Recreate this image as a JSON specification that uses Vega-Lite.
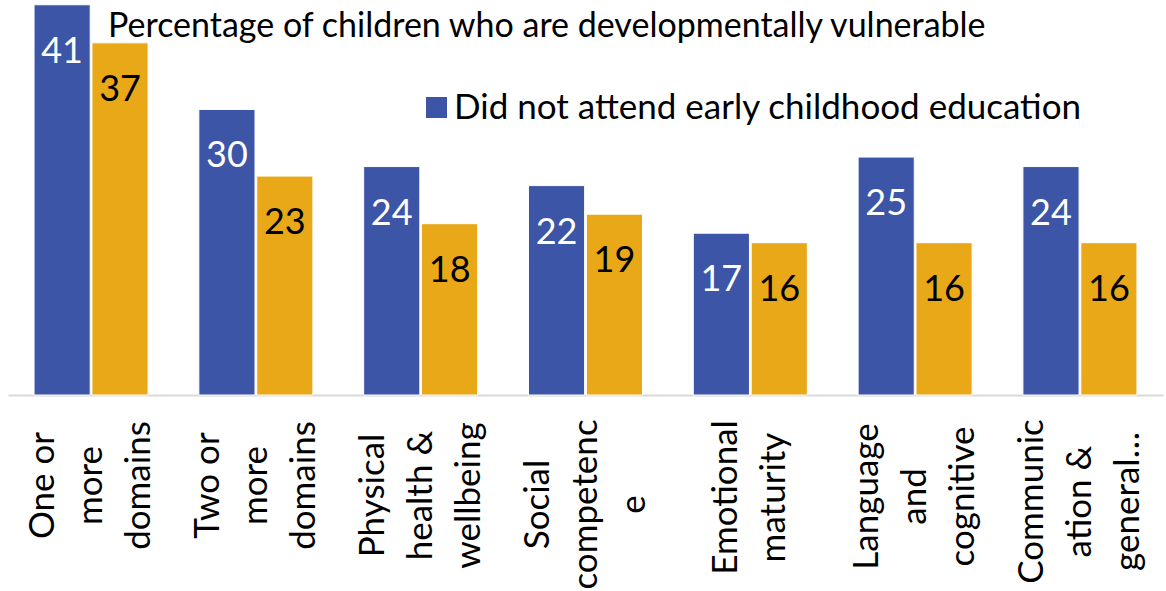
{
  "$schema": "https://vega.github.io/schema/vega-lite/v6.json",
  "width": 1155,
  "height": 395,
  "autosize": {"type": "none"},
  "padding": {"left": 8, "top": 0, "right": 3, "bottom": 196},
  "background": "white",
  "config": {"view": {"stroke": null}, "font": "Lato"},
  "title": {
    "text": "Percentage of children who are developmentally vulnerable",
    "anchor": "start",
    "frame": "group",
    "fontSize": 34,
    "fontWeight": "normal",
    "color": "black",
    "baseline": "alphabetic",
    "offset": 0,
    "dx": 100,
    "dy": 71
  },
  "data": {
    "values": [
      {"category": "One or|more|domains", "series": "Did not attend early childhood education", "value": 41},
      {"category": "One or|more|domains", "series": "Attended early childhood education", "value": 37},
      {"category": "Two or|more|domains", "series": "Did not attend early childhood education", "value": 30},
      {"category": "Two or|more|domains", "series": "Attended early childhood education", "value": 23},
      {"category": "Physical|health &|wellbeing", "series": "Did not attend early childhood education", "value": 24},
      {"category": "Physical|health &|wellbeing", "series": "Attended early childhood education", "value": 18},
      {"category": "Social|competenc|e", "series": "Did not attend early childhood education", "value": 22},
      {"category": "Social|competenc|e", "series": "Attended early childhood education", "value": 19},
      {"category": "Emotional|maturity", "series": "Did not attend early childhood education", "value": 17},
      {"category": "Emotional|maturity", "series": "Attended early childhood education", "value": 16},
      {"category": "Language|and|cognitive", "series": "Did not attend early childhood education", "value": 25},
      {"category": "Language|and|cognitive", "series": "Attended early childhood education", "value": 16},
      {"category": "Communic|ation &|general…", "series": "Did not attend early childhood education", "value": 24},
      {"category": "Communic|ation &|general…", "series": "Attended early childhood education", "value": 16}
    ]
  },
  "encoding": {
    "x": {
      "field": "category",
      "type": "nominal",
      "sort": null,
      "scale": {"paddingInner": 0.308, "paddingOuter": 0.158},
      "axis": {
        "title": null,
        "domainColor": "#d9d9d9",
        "domainWidth": 2,
        "ticks": false,
        "labelAngle": 270,
        "labelAlign": "center",
        "labelBaseline": "middle",
        "labelFontSize": 35,
        "labelColor": "black",
        "labelLineHeight": 48,
        "labelLimit": 0,
        "labelOverlap": false,
        "labelExpr": "split(datum.label, '|')",
        "labelOffset": {
          "condition": {"test": "datum.value == 'Emotional|maturity'", "value": -24},
          "value": -48
        },
        "labelPadding": {
          "condition": [
            {"test": "datum.value == 'Physical|health &|wellbeing'", "value": 100},
            {"test": "datum.value == 'Social|competenc|e'", "value": 109},
            {"test": "datum.value == 'Emotional|maturity'", "value": 102},
            {"test": "datum.value == 'Language|and|cognitive'", "value": 101},
            {"test": "datum.value == 'Communic|ation &|general…'", "value": 106}
          ],
          "value": 90
        }
      }
    },
    "xOffset": {
      "field": "series",
      "type": "nominal",
      "scale": {"domain": ["Did not attend early childhood education", "Attended early childhood education"], "paddingInner": 0.03}
    },
    "y": {
      "field": "value",
      "type": "quantitative",
      "scale": {"domain": [0, 41.5], "nice": false, "zero": true},
      "axis": null
    }
  },
  "layer": [
    {
      "mark": {"type": "bar", "stroke": "#ffffff", "strokeWidth": 1},
      "encoding": {
        "color": {
          "field": "series",
          "type": "nominal",
          "scale": {
            "domain": ["Did not attend early childhood education", "Attended early childhood education"],
            "range": ["#3c55a6", "#e8a817"]
          },
          "legend": {
            "orient": "none",
            "legendX": 411,
            "legendY": 90,
            "title": null,
            "values": ["Did not attend early childhood education"],
            "symbolType": "square",
            "symbolSize": 441,
            "symbolStrokeWidth": 0,
            "labelFontSize": 35,
            "labelOffset": 0,
            "labelColor": "black",
            "labelLimit": 0,
            "padding": 0
          }
        }
      }
    },
    {
      "mark": {"type": "text", "baseline": "alphabetic", "dy": 58, "fontSize": 36},
      "encoding": {
        "text": {"field": "value", "type": "quantitative"},
        "color": {
          "condition": {"test": "datum.series == 'Did not attend early childhood education'", "value": "#ffffff"},
          "value": "#000000"
        }
      }
    }
  ]
}
